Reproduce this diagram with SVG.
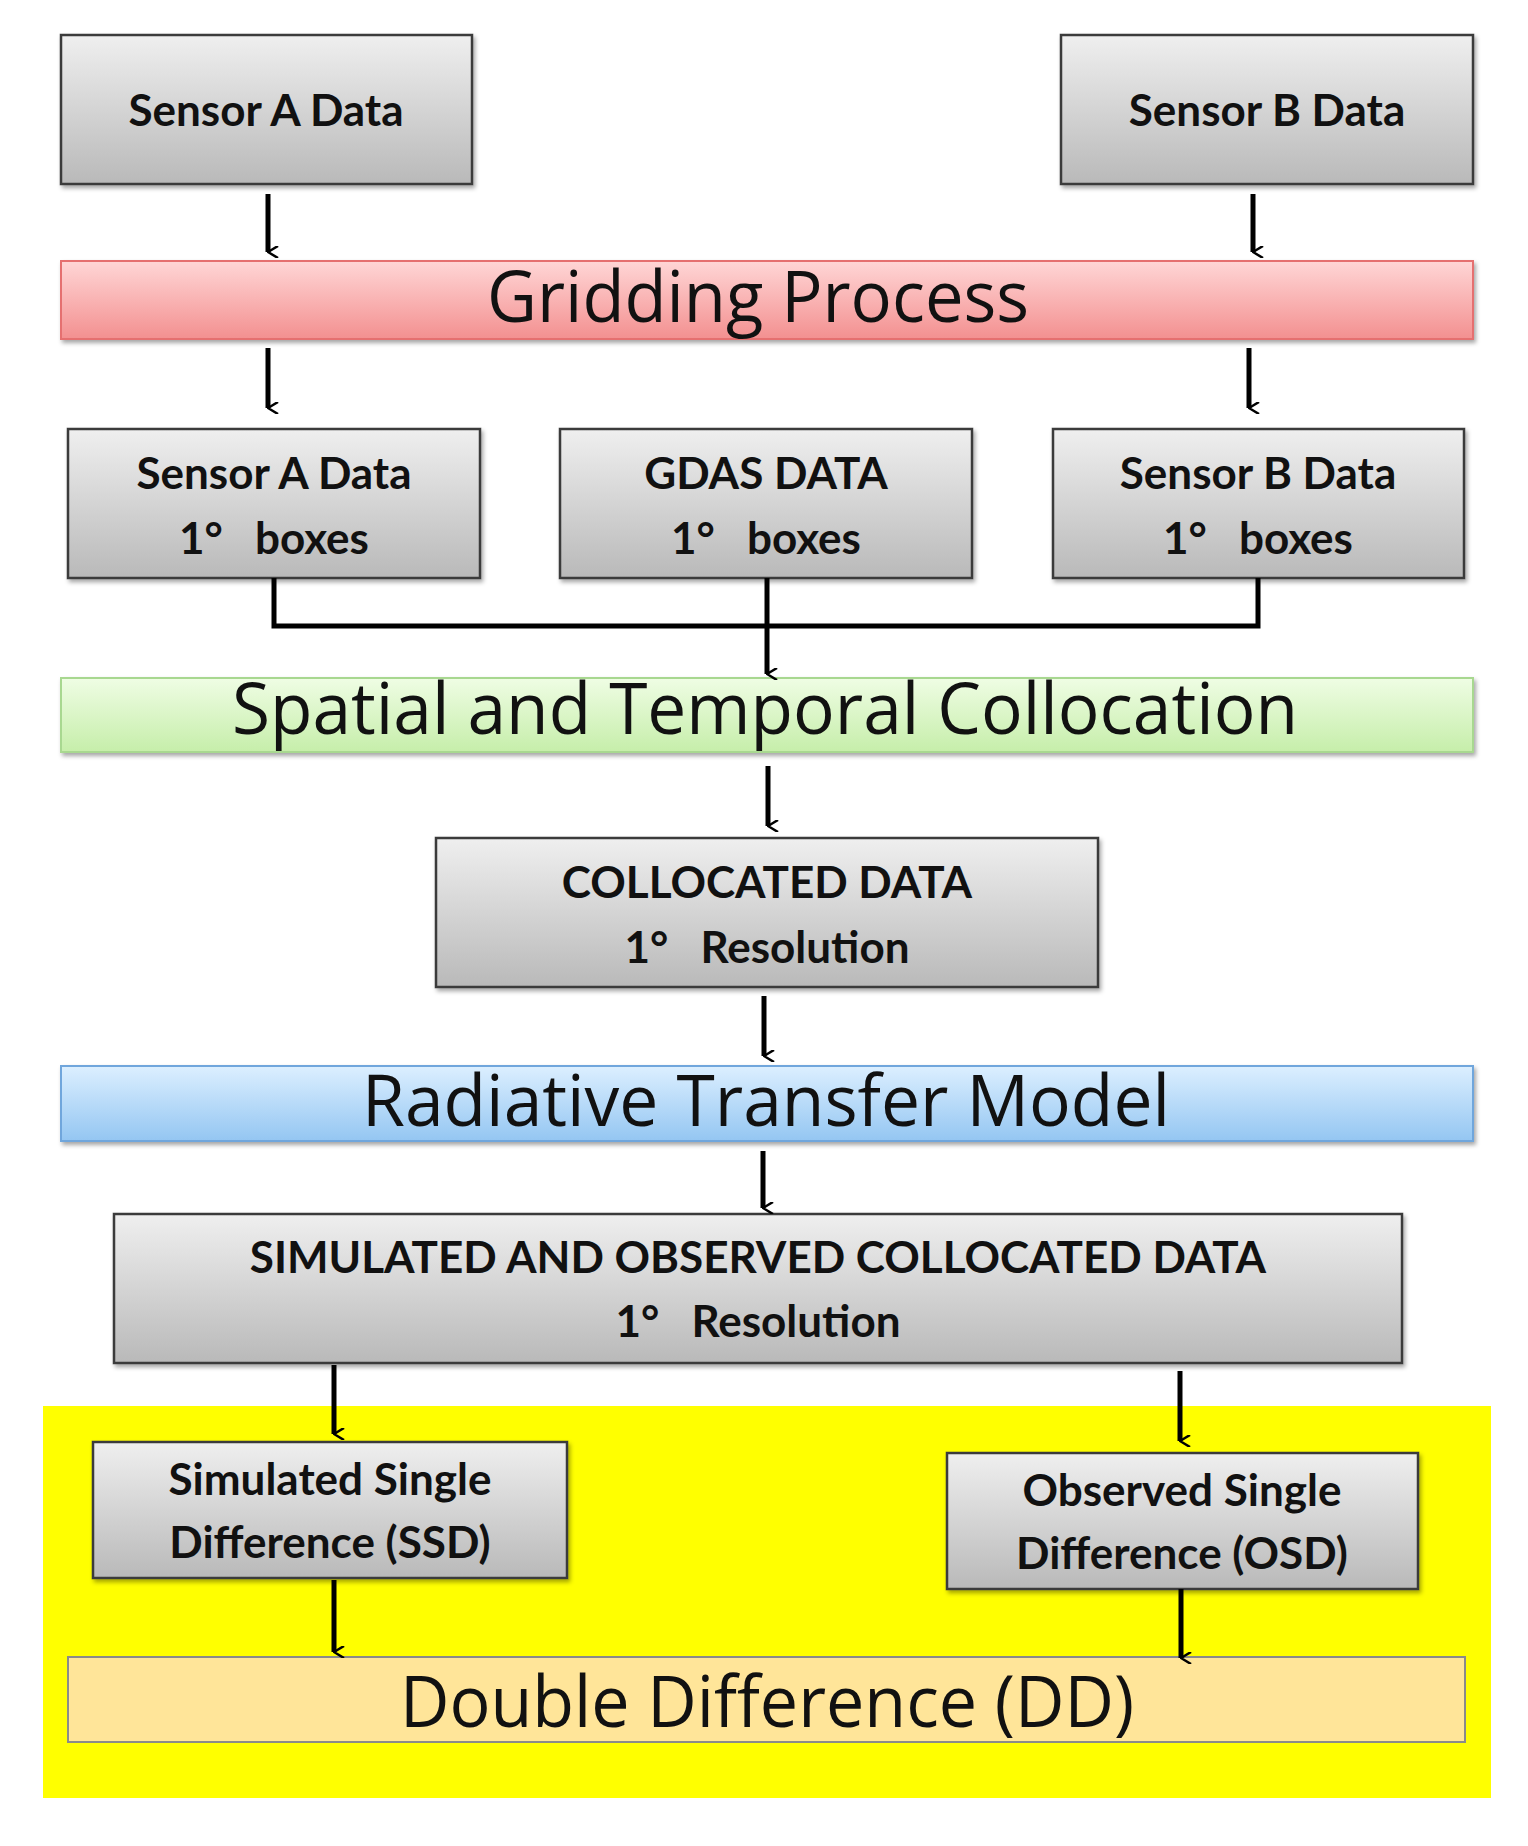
<svg xmlns="http://www.w3.org/2000/svg" width="1528" height="1846" viewBox="0 0 1528 1846">
<defs>
<linearGradient id="gray" x1="0" y1="0" x2="0" y2="1"><stop offset="0" stop-color="#efefef"/><stop offset="1" stop-color="#b9b9b9"/></linearGradient>
<linearGradient id="red" x1="0" y1="0" x2="0" y2="1"><stop offset="0" stop-color="#ffd6d6"/><stop offset="1" stop-color="#f39090"/></linearGradient>
<linearGradient id="green" x1="0" y1="0" x2="0" y2="1"><stop offset="0" stop-color="#effde4"/><stop offset="1" stop-color="#c6eeaa"/></linearGradient>
<linearGradient id="blue" x1="0" y1="0" x2="0" y2="1"><stop offset="0" stop-color="#dcefff"/><stop offset="1" stop-color="#94c6f2"/></linearGradient>
<filter id="sh" x="-5%" y="-10%" width="110%" height="130%"><feDropShadow dx="2" dy="3" stdDeviation="2" flood-opacity="0.35"/></filter>
<marker id="ah" viewBox="0 0 12 12" refX="6" refY="11" markerWidth="12" markerHeight="12" markerUnits="userSpaceOnUse" orient="auto-start-reverse"><path d="M0,1 L6,11 L12,1" fill="none" stroke="#000" stroke-width="2.5"/></marker>
</defs>
<style>
.box{fill:url(#gray);stroke:#3a3a3a;stroke-width:2.5;filter:url(#sh)}
.bt{font-family:Lato,"Open Sans",sans-serif;font-weight:700;font-size:44px;fill:#111;text-anchor:middle;white-space:pre}
.big{font-family:"Open Sans",Lato,sans-serif;font-size:72px;fill:#111;text-anchor:middle}
.arr{stroke:#000;stroke-width:5;fill:none}
.ar{stroke:#000;stroke-width:5;fill:none}
</style>
<rect x="43" y="1406" width="1448" height="392" fill="#ffff00"/>
<g id="sensorA"><rect class="box" x="61" y="35" width="411" height="149"/><text class="bt" x="266" y="126">Sensor A Data</text></g>
<g id="sensorB"><rect class="box" x="1061" y="35" width="412" height="149"/><text class="bt" x="1267" y="126">Sensor B Data</text></g>
<g id="gridding"><rect x="61" y="261" width="1412" height="78" fill="url(#red)" stroke="#e57070" stroke-width="2" filter="url(#sh)"/><text class="big" x="758" y="322" textLength="542" lengthAdjust="spacingAndGlyphs">Gridding Process</text></g>
<g id="sensorA1"><rect class="box" x="68" y="429" width="412" height="149"/><text class="bt" x="274" y="489">Sensor A Data</text><text class="bt" x="274" y="554">1°   boxes</text></g>
<g id="gdas"><rect class="box" x="560" y="429" width="412" height="149"/><text class="bt" x="766" y="489">GDAS DATA</text><text class="bt" x="766" y="554">1°   boxes</text></g>
<g id="sensorB1"><rect class="box" x="1053" y="429" width="411" height="149"/><text class="bt" x="1258" y="489">Sensor B Data</text><text class="bt" x="1258" y="554">1°   boxes</text></g>
<g id="spatial"><rect x="61" y="678" width="1412" height="74" fill="url(#green)" stroke="#a8d890" stroke-width="2" filter="url(#sh)"/><text class="big" x="765" y="734" textLength="1066" lengthAdjust="spacingAndGlyphs">Spatial and Temporal Collocation</text></g>
<g id="collocated"><rect class="box" x="436" y="838" width="662" height="149"/><text class="bt" x="767" y="898">COLLOCATED DATA</text><text class="bt" x="767" y="963">1°   Resolution</text></g>
<g id="radiative"><rect x="61" y="1066" width="1412" height="75" fill="url(#blue)" stroke="#6fa6dc" stroke-width="2" filter="url(#sh)"/><text class="big" x="766" y="1126" textLength="808" lengthAdjust="spacingAndGlyphs">Radiative Transfer Model</text></g>
<g id="simobs"><rect class="box" x="114" y="1214" width="1288" height="149"/><text class="bt" x="758" y="1273">SIMULATED AND OBSERVED COLLOCATED DATA</text><text class="bt" x="758" y="1337">1°   Resolution</text></g>
<g id="ssd"><rect class="box" x="93" y="1442" width="474" height="136"/><text class="bt" x="330" y="1495">Simulated Single</text><text class="bt" x="330" y="1558">Difference (SSD)</text></g>
<g id="osd"><rect class="box" x="947" y="1453" width="471" height="136"/><text class="bt" x="1182" y="1506">Observed Single</text><text class="bt" x="1182" y="1569">Difference (OSD)</text></g>
<g id="dd"><rect x="68" y="1657" width="1397" height="85" fill="#ffe599" stroke="#8a8a8a" stroke-width="2"/><text class="big" x="767" y="1727" textLength="734" lengthAdjust="spacingAndGlyphs">Double Difference (DD)</text></g>
<g id="connectors">
<line class="arr" x1="268" y1="194" x2="268" y2="252" marker-end="url(#ah)"/>
<line class="arr" x1="1253" y1="194" x2="1253" y2="252" marker-end="url(#ah)"/>
<line class="arr" x1="268" y1="348" x2="268" y2="408" marker-end="url(#ah)"/>
<line class="arr" x1="1249" y1="348" x2="1249" y2="408" marker-end="url(#ah)"/>
<polyline class="ar" points="274,578 274,626 1258,626 1258,578"/>
<line class="arr" x1="767" y1="578" x2="767" y2="674" marker-end="url(#ah)"/>
<line class="arr" x1="768" y1="766" x2="768" y2="826" marker-end="url(#ah)"/>
<line class="arr" x1="764" y1="996" x2="764" y2="1056" marker-end="url(#ah)"/>
<line class="arr" x1="763" y1="1151" x2="763" y2="1208" marker-end="url(#ah)"/>
<line class="arr" x1="334" y1="1365" x2="334" y2="1434" marker-end="url(#ah)"/>
<line class="arr" x1="1180" y1="1371" x2="1180" y2="1441" marker-end="url(#ah)"/>
<line class="arr" x1="334" y1="1580" x2="334" y2="1652" marker-end="url(#ah)"/>
<line class="arr" x1="1181" y1="1589" x2="1181" y2="1658" marker-end="url(#ah)"/>
</g>
</svg>
